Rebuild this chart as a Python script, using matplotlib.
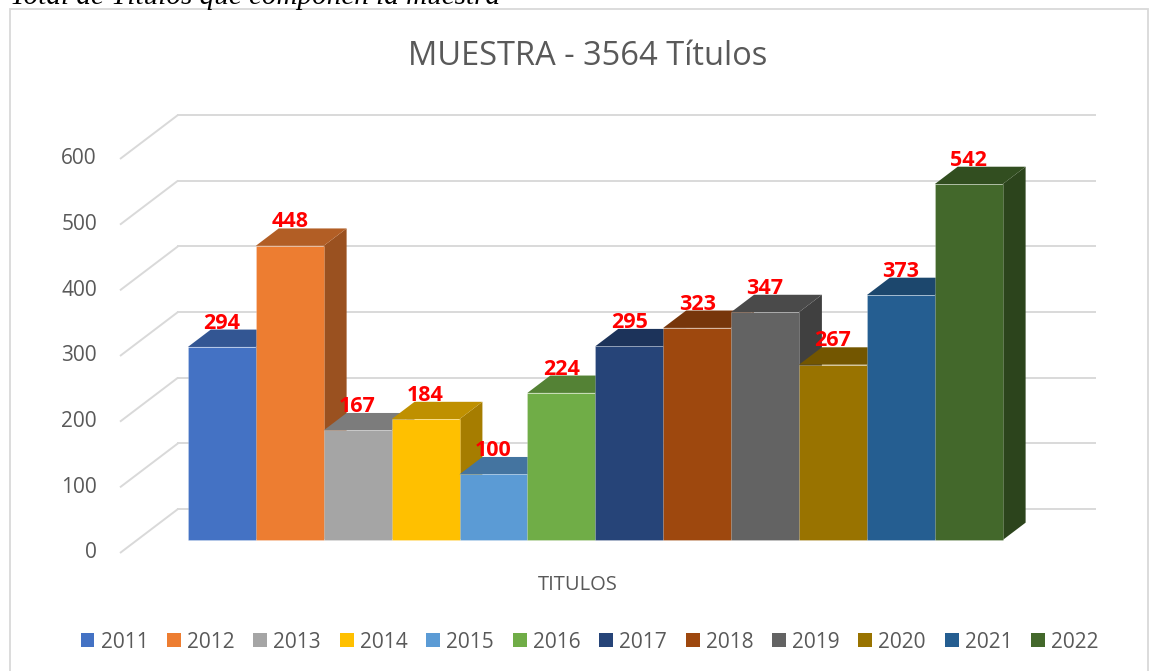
import matplotlib.pyplot as plt
import matplotlib.colors as mcolors
from matplotlib.patches import Polygon, Patch, Rectangle
import numpy as np

# ----------------- Data -----------------
years = ["2011", "2012", "2013", "2014", "2015", "2016",
         "2017", "2018", "2019", "2020", "2021", "2022"]
values = [294, 448, 167, 184, 100, 224, 295, 323, 347, 267, 373, 542]
colors = ["#4472C4", "#ED7D31", "#A5A5A5", "#FFC000", "#5B9BD5", "#70AD47",
          "#264478", "#9E480E", "#636363", "#997300", "#255E91", "#43682B"]
yticks = [0, 100, 200, 300, 400, 500, 600]

TITLE = "MUESTRA - 3564 Títulos"
XLABEL = "TITULOS"
CAPTION = "Total de Títulos que componen la muestra"

# ----------------- Geometry (pseudo 3D, oblique projection) -----------------
W, H = 1151, 671
PX_CAT = 67.9       # pixels per bar slot
PX_VAL = 0.6567     # pixels per value unit
ORIG = (120, 553)   # front-left floor corner, pixels
DEPTH = (58 / PX_CAT, 44 / PX_VAL)   # full floor depth in data units
F0, F1 = 0.295, 0.69                 # bar depth range (fraction of floor)
X_BACK_END = (1095 - ORIG[0]) / PX_CAT

TEXT = "#595959"
GRID = "#d9d9d9"
FONT = "Open Sans"


def shade(c, k):
    r, g, b = mcolors.to_rgb(c)
    return (r * k, g * k, b * k)


fig = plt.figure(figsize=(W / 100, H / 100), dpi=100)
ax = fig.add_axes([0, 0, 1, 1])
ax.set_xlim(-ORIG[0] / PX_CAT, (W - ORIG[0]) / PX_CAT)
ax.set_ylim((ORIG[1] - H) / PX_VAL, ORIG[1] / PX_VAL)
ax.axis("off")

# chart border
fig.patches.append(Rectangle((9.5 / W, -0.05), (1148 - 9.5) / W, 1.05 - 9.5 / H,
                             transform=fig.transFigure, fill=False,
                             edgecolor=GRID, linewidth=1.3))

# gridlines: slanted floor-left segments + back wall lines
dx, dy = DEPTH
for v in yticks:
    ax.plot([0, dx], [v, v + dy], color=GRID, lw=1.4, zorder=1, solid_capstyle="butt")
    ax.plot([dx, X_BACK_END], [v + dy, v + dy], color=GRID, lw=1.4, zorder=1)
    ax.text((97 - ORIG[0]) / PX_CAT, v, str(v), ha="right", va="center",
            fontsize=15, color=TEXT, family=FONT)

# bars
x_left = np.arange(len(values)) + 1.0
y0, y1 = F0 * dy, F1 * dy
bdx = (F1 - F0) * dx
bdy = y1 - y0
fronts = ax.bar(x_left, values, width=1.0, bottom=y0, align="edge",
                color=colors, edgecolor=(1, 1, 1, 0.25), linewidth=0.6)
for i, (xl, v, c) in enumerate(zip(x_left, values, colors)):
    z = 2 + i * 0.1
    xr = xl + 1.0
    side = Polygon([(xr, y0), (xr, y0 + v), (xr + bdx, y0 + v + bdy), (xr + bdx, y0 + bdy)],
                   closed=True, facecolor=shade(c, 0.65), edgecolor="none", zorder=z)
    top = Polygon([(xl, y0 + v), (xr, y0 + v), (xr + bdx, y0 + v + bdy), (xl + bdx, y0 + v + bdy)],
                  closed=True, facecolor=shade(c, 0.75), edgecolor="none", zorder=z + 0.01)
    ax.add_patch(side)
    ax.add_patch(top)
    fronts[i].set_zorder(z + 0.02)
    ax.text(xl + 0.5, v + y1 + 1.5, str(v), ha="center", va="baseline",
            fontsize=15.5, fontweight="bold", color="red", family=FONT, zorder=10)

# texts
fig.text(587.5 / W, 1 - 65 / H, TITLE, ha="center", va="baseline",
         fontsize=23.5, color=TEXT, family=FONT)
fig.text(578 / W, 1 - 590 / H, XLABEL, ha="center", va="baseline",
         fontsize=14.5, color=TEXT, family=FONT)
fig.text(10 / W, 1 - 4 / H, CAPTION, ha="left", va="baseline",
         fontsize=21, style="italic", family="Liberation Serif", color="black")

handles = [Patch(facecolor=c, edgecolor="none") for c in colors]
fig.legend(handles, years, loc="center", bbox_to_anchor=(589.5 / W, 1 - 642 / H),
           ncol=len(years), frameon=False, handlelength=0.67, handleheight=0.67,
           handletextpad=0.29, columnspacing=0.9, borderpad=0,
           prop={"family": FONT, "size": 15}, labelcolor=TEXT)

fig.savefig("out.png", dpi=100)
